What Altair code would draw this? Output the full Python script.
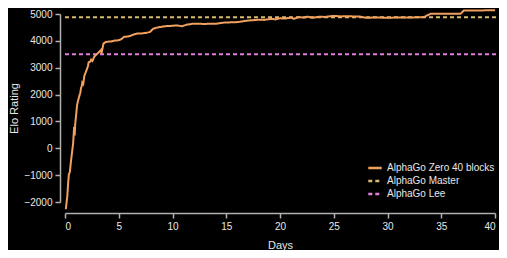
import altair as alt
import pandas as pd

# AlphaGo Zero 40 blocks learning curve
days = [0.08, 0.15, 0.21, 0.3, 0.36, 0.45, 0.55, 0.67, 0.75, 0.85, 0.9, 0.95, 1.05, 1.12, 1.2, 1.3,
        1.43, 1.5, 1.55, 1.61, 1.7, 1.8, 1.95, 2.13, 2.2, 2.35, 2.43, 2.55, 2.73, 2.9, 3.12, 3.25,
        3.34, 3.4, 3.48, 3.58, 3.8, 4.3, 4.6, 5.0, 5.3, 5.5, 5.8, 6.1, 6.4, 6.7, 7.2, 7.6, 7.9,
        8.2, 8.5, 8.83, 9.4, 10.0, 10.35, 10.9, 11.3, 11.87, 12.5, 13.0, 13.4, 14.0, 14.5, 14.9,
        15.5, 16.1, 16.4, 17.0, 17.5, 18.0, 18.5, 19.15, 19.6, 20.0, 20.5, 21.0, 21.3, 21.7, 22.2,
        22.6, 23.0, 23.7, 24.2, 24.7, 25.2, 25.7, 26.2, 26.8, 27.4, 28.0, 29.0, 30.0, 31.0, 32.0,
        33.0, 33.4, 34.0, 35.0, 36.0, 36.8, 37.1, 38.0, 39.0, 40.0]
elo = [-2270, -2000, -1800, -1250, -980, -880, -500, -100, 150, 800, 480, 900, 1300, 1600, 1750, 1900,
       2080, 2270, 2300, 2450, 2400, 2700, 2850, 3050, 3200, 3230, 3300, 3250, 3420, 3480, 3570, 3620,
       3660, 3530, 3700, 3900, 3960, 3980, 4010, 4020, 4080, 4150, 4160, 4190, 4240, 4270, 4280, 4300, 4330,
       4450, 4490, 4515, 4550, 4560, 4575, 4545, 4600, 4635, 4640, 4625, 4640, 4635, 4665, 4683,
       4690, 4700, 4720, 4755, 4770, 4790, 4780, 4818, 4800, 4840, 4830, 4870, 4820, 4880, 4870,
       4900, 4860, 4900, 4890, 4920, 4925, 4910, 4920, 4910, 4905, 4860, 4870, 4860, 4870, 4870,
       4880, 4885, 5010, 5010, 5010, 5010, 5130, 5130, 5135, 5140]

series_names = ["AlphaGo Zero 40 blocks", "AlphaGo Master", "AlphaGo Lee"]
series_colors = ["#f2a05e", "#d9b872", "#e07fe0"]
ref_levels = [4880, 3500]  # Master, Lee

zero_df = pd.DataFrame({"Days": days, "Elo": elo, "series": series_names[0]})
ref_df = pd.DataFrame({"series": series_names[1:], "Elo": ref_levels, "x0": [0, 0], "x1": [40.3, 40.3]})

FONT = "Liberation Sans"
TEXT = "#e8e8e8"
AX = "#b0b0b0"

color = alt.Color("series:N",
                  scale=alt.Scale(domain=series_names, range=series_colors),
                  legend=alt.Legend(title=None, orient="none", legendX=302, legendY=146,
                                    symbolType="stroke", symbolSize=180, symbolStrokeWidth=2.5,
                                    labelColor=TEXT, labelFontSize=10, labelFont=FONT,
                                    rowPadding=0, padding=0, symbolOffset=0, labelOffset=4))
dash = alt.StrokeDash("series:N",
                      scale=alt.Scale(domain=series_names, range=[[1, 0], [4, 3], [4, 3]]),
                      legend=None)

x_scale = alt.Scale(domain=[0, 40], nice=False, zero=False)
y_scale = alt.Scale(domain=[-2000, 5000], nice=False, zero=False)

x_axis = alt.Axis(values=[0, 5, 10, 15, 20, 25, 30, 35, 40], title="Days", offset=11,
                  grid=False, domainColor=AX, tickColor=AX, domainWidth=1.5,
                  tickWidth=1.5, tickSize=5, labelColor=TEXT, labelFontSize=10, format="d",
                  titleColor=TEXT, titleFontSize=11, titleFontWeight="normal",
                  labelFont=FONT, titleFont=FONT, titlePadding=8, labelPadding=3)
y_axis = alt.Axis(values=[-2000, -1000, 0, 1000, 2000, 3000, 4000, 5000], title="Elo Rating",
                  offset=5, grid=False, domainColor=AX, tickColor=AX, format="d",
                  domainWidth=1.5, tickWidth=1.5, tickSize=5, labelColor=TEXT,
                  labelFontSize=10, titleColor=TEXT, titleFontSize=11,
                  titleFontWeight="normal", labelFont=FONT,
                  titleFont=FONT, titlePadding=4, labelPadding=3)

refs = alt.Chart(ref_df).mark_rule(strokeWidth=2).encode(
    x=alt.X("x0:Q", scale=x_scale, axis=x_axis),
    x2="x1:Q",
    y=alt.Y("Elo:Q", scale=y_scale, axis=y_axis),
    color=color,
    strokeDash=dash,
)

zero = alt.Chart(zero_df).mark_line(strokeWidth=2, clip=False).encode(
    x=alt.X("Days:Q", scale=x_scale, axis=x_axis),
    y=alt.Y("Elo:Q", scale=y_scale, axis=y_axis),
    color=color,
    strokeDash=dash,
)

chart = alt.layer(refs, zero).properties(
    width=430, height=188,
    autosize=alt.AutoSizeParams(type="none"),
    padding={"left": 57, "top": 6, "right": 4, "bottom": 48},
    background="black",
).configure_view(stroke=None)

chart.save("out.html", embed_options={"renderer": "svg", "actions": False})
